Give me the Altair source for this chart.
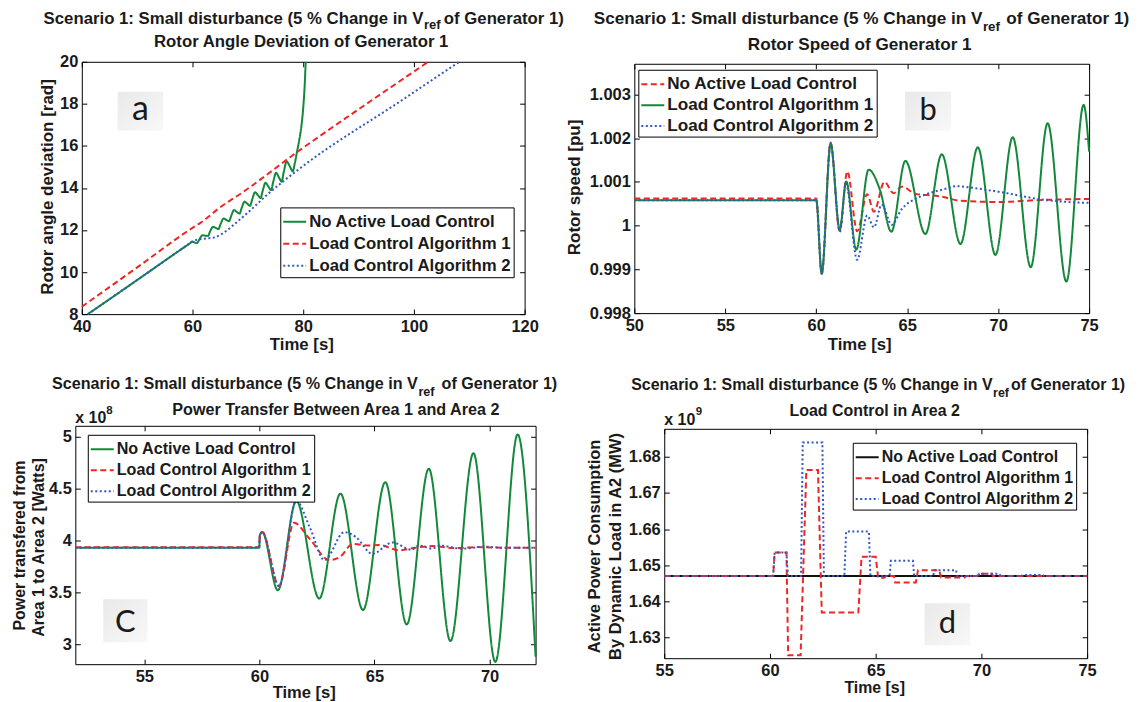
import altair as alt
import pandas as pd

FONT = "Liberation Sans"
W, H = 561, 343
GREEN, RED, BLUE, BLACK = "#13883a", "#f02626", "#3358c4", "#111111"
SOLID, DASH, DOT = [1, 0], [6, 3.5], [2, 2.5]
INK = "#1a1a1a"

NO = "No Active Load Control"
A1 = "Load Control Algorithm 1"
A2 = "Load Control Algorithm 2"
SERIES = [NO, A1, A2]

# ---------------- panel a : rotor angle deviation [rad] ----------------
a_no_t = [41.1, 50.0, 55.0, 58.0, 59.5, 60.0, 60.4, 60.8, 61.3, 61.8, 62.3, 62.8, 63.2, 63.7, 64.2, 64.7,
          65.1, 65.6, 66.1, 66.6, 67.0, 67.5, 68.0, 68.5, 68.9, 69.4, 69.9, 70.4, 70.8, 71.3, 71.8, 72.3,
          72.7, 73.2, 73.7, 74.2, 74.6, 75.1, 75.6, 76.1, 76.5, 77.0, 77.6, 78.1, 78.5, 78.9, 79.3, 79.7,
          80.0, 80.25, 80.45]
a_no_v = [8.0, 9.62, 10.54, 11.09, 11.36, 11.45, 11.40, 11.38, 11.58, 11.75, 11.73, 11.72, 11.95, 12.15,
          12.10, 12.05, 12.30, 12.55, 12.48, 12.42, 12.68, 12.95, 12.86, 12.78, 13.06, 13.35, 13.25, 13.15,
          13.47, 13.80, 13.66, 13.52, 13.88, 14.25, 14.07, 13.90, 14.31, 14.72, 14.51, 14.30, 14.78, 15.26,
          15.02, 14.79, 15.20, 15.75, 16.30, 17.00, 17.80, 18.80, 20.0]
a_a1_t = [40, 50, 60, 61.5, 63, 64.5, 66, 67.5, 79.5, 92, 102.6]
a_a1_v = [8.35, 10.22, 12.1, 12.35, 12.65, 12.98, 13.27, 13.52, 15.82, 18.1, 20.0]
a_a2_t = [41.1, 50.0, 55.0, 58.0, 59.5, 60.0, 61.0, 62.5, 64.0, 65.2, 66.3, 67.5, 70.5, 73.5, 79.5, 97.4,
          108.2]
a_a2_v = [8.0, 9.62, 10.54, 11.09, 11.36, 11.45, 11.55, 11.60, 11.65, 11.80, 12.00, 12.26, 12.95, 13.68,
          14.95, 18.10, 20.0]

# ---------------- panel b : rotor speed [pu] ----------------
b_no_t = [50, 60.0, 60.3, 60.79, 61.28, 61.71, 62.25, 62.8, 63.17, 63.75, 64.25, 64.7, 65.5, 66.1, 66.9,
          67.9, 70.1, 72.0, 75.0]
b_no_v = [1.00062, 1.00062, 0.9989, 1.0019, 0.99988, 1.00124, 0.99987, 1.00072, 1.00032, 1.00100, 1.00074,
          1.00089, 1.00072, 1.00070, 1.00066, 1.00057, 1.00054, 1.00058, 1.00061]
b_a1_t = [50, 60.0, 60.3, 60.79, 61.29, 61.65, 62.2, 62.88, 63.5, 64.13, 64.9, 66.0, 66.9, 67.93, 68.88,
          69.85, 70.8, 71.79, 72.72, 73.75, 74.7, 75.0]
b_a1_v = [1.00058, 1.00058, 0.9989, 1.00188, 0.9999, 1.00101, 0.99945, 1.00128, 1.00082, 0.99986, 1.00148,
          0.99981, 1.00163, 0.99958, 1.00179, 0.99933, 1.00202, 0.99905, 1.00234, 0.99872, 1.00276, 1.00169]
b_a2_t = [50, 60.0, 60.3, 60.79, 61.3, 61.63, 62.25, 62.8, 63.17, 63.6, 64.15, 64.7, 65.5, 66.0, 67.0, 67.7,
          68.5, 69.5, 70.5, 71.5, 72.5, 73.5, 75.0]
b_a2_v = [1.00058, 1.00058, 0.9989, 1.00188, 0.99986, 1.00097, 0.99922, 1.00023, 0.99996, 1.00048, 1.00002,
          1.00038, 1.00062, 1.00071, 1.00083, 1.0009, 1.00087, 1.00081, 1.00074, 1.00066, 1.00059, 1.00055,
          1.00052]

# ---------------- panel c : power transfer (x 1e8 W) ----------------
c_no_t = [52, 59.99, 60.02, 60.12, 60.8, 61.6, 62.6, 63.52, 64.5, 65.47, 66.4, 67.36, 68.3, 69.3, 70.25,
          71.22, 72.0]
c_no_v = [3.93, 3.93, 4.05, 4.08, 3.52, 4.38, 3.44, 4.45, 3.33, 4.56, 3.19, 4.69, 3.03, 4.84, 2.83, 5.02, 2.88]
c_a1_t = [52, 59.99, 60.02, 60.12, 60.85, 61.5, 62.18, 63.04, 63.5, 64.05, 64.77, 65.2, 66.07, 66.8, 67.5,
          68.5, 69.5, 70.5, 72.0]
c_a1_v = [3.935, 3.935, 4.05, 4.08, 3.56, 4.17, 4.015, 3.81, 3.84, 3.965, 3.95, 3.955, 3.905, 3.93, 3.945,
          3.925, 3.935, 3.93, 3.93]
c_a2_t = [52, 59.99, 60.02, 60.12, 60.85, 61.6, 62.18, 62.83, 63.69, 64.2, 64.91, 65.78, 66.6, 66.93, 67.5,
          67.85, 68.8, 69.8, 70.5, 72.0]
c_a2_v = [3.93, 3.93, 4.05, 4.08, 3.56, 4.38, 4.13, 3.81, 4.08, 4.03, 3.87, 3.98, 3.91, 3.95, 3.92, 3.95,
          3.92, 3.94, 3.93, 3.93]

# ---------------- panel d : load in area 2 (x 1e9) ----------------
d_no_t = [55, 75]
d_no_v = [1.647, 1.647]
d_a1_t = [55, 60.15, 60.22, 60.78, 60.86, 61.45, 61.72, 62.27, 62.45, 64.18, 64.33, 65.0, 65.12, 65.4, 65.5,
          65.86, 65.92, 66.9, 67.0, 68.0, 68.1, 69.2, 69.3, 69.8, 69.85, 70.5, 70.55, 75]
d_a1_v = [1.647, 1.647, 1.6535, 1.6535, 1.625, 1.625, 1.6764, 1.6764, 1.6369, 1.6369, 1.6523, 1.6523,
          1.6465, 1.6465, 1.647, 1.647, 1.6452, 1.6452, 1.6486, 1.6486, 1.6466, 1.6466, 1.647, 1.647,
          1.6476, 1.6476, 1.647, 1.647]
d_a2_t = [55, 60.15, 60.22, 60.78, 60.85, 61.47, 61.55, 62.48, 62.55, 63.52, 63.6, 64.68, 64.75, 65.66,
          65.72, 66.76, 66.82, 67.72, 67.78, 68.8, 68.86, 69.85, 69.9, 70.85, 70.9, 71.9, 71.95, 72.9,
          72.95, 75]
d_a2_v = [1.647, 1.647, 1.6535, 1.6535, 1.647, 1.647, 1.684, 1.684, 1.647, 1.647, 1.6593, 1.6593, 1.647,
          1.647, 1.6512, 1.6512, 1.647, 1.647, 1.6486, 1.6486, 1.647, 1.647, 1.6476, 1.6476, 1.647, 1.647,
          1.6473, 1.6473, 1.647, 1.647]


def frame(series):
    rows = []
    for name, ts, vs in series:
        rows += [{"t": t, "v": v, "s": name} for t, v in zip(ts, vs)]
    return pd.DataFrame(rows)


ONE = pd.DataFrame({"k": [0]})


def txt(s, x, y, size, align="center", weight="bold", angle=0, font=FONT, baseline="middle"):
    kw = dict(text=s, font=font, fontSize=size, fontWeight=weight, align=align,
              baseline=baseline, color=INK)
    if angle:
        kw["angle"] = angle
    return alt.Chart(ONE).mark_text(**kw).encode(x=alt.value(x), y=alt.value(y))


def panel(df, colors, dashes, interp, xdom, ydom, box, xticks, yticks, yfmt,
          leg, legsize, extra):
    pl, pr, pt, pbot = box
    xs = alt.Scale(domain=xdom, range=[pl, pr], nice=False, zero=False)
    ys = alt.Scale(domain=ydom, range=[pbot, pt], nice=False, zero=False)
    lab = dict(labelFont=FONT, labelFontSize=16.5, labelFontWeight="bold", labelColor=INK,
               domainColor="black", domainWidth=1, ticks=False, tickSize=0, grid=False,
               title=None, labelOverlap=False, labelFlush=False, labelPadding=4)
    tk = dict(labels=False, grid=False, title=None, tickSize=5, tickColor="black",
              tickWidth=1, domainColor="black", domainWidth=1)
    leg_kw = dict(orient="none", legendX=leg[0], legendY=leg[1], title=None,
                  symbolType="stroke", symbolSize=529, symbolStrokeWidth=2,
                  labelFont=FONT, labelFontSize=legsize, labelFontWeight="bold",
                  labelColor=INK, labelLimit=400, labelOffset=2, padding=2,
                  rowPadding=0, strokeColor="black", fillColor="white", cornerRadius=0)
    lines = alt.Chart(df).mark_line(interpolate=interp, strokeWidth=2).encode(
        x=alt.X("t:Q", scale=xs,
                axis=alt.Axis(orient="bottom", offset=pbot - H, values=xticks, **lab)),
        y=alt.Y("v:Q", scale=ys,
                axis=alt.Axis(orient="left", offset=-pl, values=yticks, format=yfmt, **lab)),
        color=alt.Color("s:N", scale=alt.Scale(domain=SERIES, range=colors),
                        legend=alt.Legend(**leg_kw)),
        strokeDash=alt.StrokeDash("s:N", scale=alt.Scale(domain=SERIES, range=dashes),
                                  legend=alt.Legend(**leg_kw)),
    )
    ticks_in = alt.Chart(df).mark_point(opacity=0, size=1).encode(
        x=alt.X("t:Q", scale=xs,
                axis=alt.Axis(orient="top", offset=-pbot, values=xticks, domain=False, **tk)),
        y=alt.Y("v:Q", scale=ys,
                axis=alt.Axis(orient="right", offset=pl - W, values=yticks, domain=False, **tk)),
    )
    ticks_box = alt.Chart(df).mark_point(opacity=0, size=1).encode(
        x=alt.X("t:Q", scale=xs,
                axis=alt.Axis(orient="bottom", offset=pt - H, values=xticks, domain=True, **tk)),
        y=alt.Y("v:Q", scale=ys,
                axis=alt.Axis(orient="left", offset=-pr, values=yticks, domain=True, **tk)),
    )
    return alt.layer(*extra, lines, ticks_in, ticks_box).resolve_axis(
        x="independent", y="independent").properties(width=W, height=H)


def letter_box(ch, x0, x1, y0, y1, base, size):
    box = alt.Chart(ONE).mark_rect(
        fill=alt.Gradient(gradient="linear", x1=0, y1=0, x2=1, y2=1,
                          stops=[alt.GradientStop(color="#e9e9e9", offset=0),
                                 alt.GradientStop(color="#f8f8f8", offset=1)])
    ).encode(x=alt.value(x0), x2=alt.value(x1), y=alt.value(y0), y2=alt.value(y1))
    t = txt(ch, (x0 + x1) / 2, base, size, weight="normal", font="Lato", baseline="alphabetic")
    return [box, t]


def title_block(size, vend, ofx, y1, ysub, l2, l2x, l2y, gap="  "):
    return [
        txt("Scenario 1: Small" + gap + "disturbance" + gap + "(5 % Change in V", vend, y1, size, align="right"),
        txt("ref", vend + 0.5, ysub, size * 0.78, align="left"),
        txt("of Generator 1)", ofx, y1, size, align="left"),
        txt(l2, l2x, l2y, size),
    ]


# ---- panel a ----
df_a = frame([(NO, a_no_t, a_no_v), (A1, a_a1_t, a_a1_v), (A2, a_a2_t, a_a2_v)])
extra_a = (title_block(16.8, 415.5, 436, 9, 15, "Rotor Angle Deviation of Generator 1", 293, 32)
           + letter_box("a", 109, 154.5, 82, 121, 110, 34)
           + [txt("Rotor angle deviation [rad]", 39, 177.5, 17, angle=270),
              txt("Time [s]", 293.6, 336, 16.8)])
pa = panel(df_a, [GREEN, RED, BLUE], [SOLID, DASH, DOT], "monotone", [40, 120], [8, 20],
           (73, 517, 52, 305), [40, 60, 80, 100, 120], [8, 10, 12, 14, 16, 18, 20], "d",
           (272, 198), 16.8, extra_a)

# ---- panel b ----
df_b = frame([(NO, b_no_t, b_no_v), (A1, b_a1_t, b_a1_v), (A2, b_a2_t, b_a2_v)])
extra_b = (title_block(17.2, 415, 439, 9, 17, "Rotor Speed of Generator 1", 292, 35)
           + letter_box("b", 337.5, 383.6, 82, 121, 110, 31)
           + [txt("Rotor speed [pu]", 7, 178, 17, angle=270),
              txt("Time [s]", 292, 336, 16.8)])
pb_ = panel(df_b, [RED, GREEN, BLUE], [DASH, SOLID, DOT], "monotone", [50, 75], [0.998, 1.0037],
            (66, 522, 54, 304), [50, 55, 60, 65, 70, 75],
            [0.998, 0.999, 1.0, 1.001, 1.002, 1.003], "~g", (70, 60), 17.2, extra_b)

# ---- panel c ----
df_c = frame([(NO, c_no_t, c_no_v), (A1, c_a1_t, c_a1_v), (A2, c_a2_t, c_a2_v)])
extra_c = (title_block(16.2, 410, 433.7, 32.5, 40.5, "Power Transfer Between Area 1 and Area 2", 327.7, 58, gap=" ")
           + letter_box("C", 94.5, 139, 248, 291, 280.7, 31)
           + [txt("Power transfered from", 11, 194, 16, angle=270),
              txt("Area 1 to Area 2 [Watts]", 30, 196, 16, angle=270),
              txt("Time [s]", 296, 342, 16.6),
              txt("x 10", 66.5, 66.5, 16, align="left"),
              txt("8", 97.5, 59, 11.5, align="left")])
pc = panel(df_c, [GREEN, RED, BLUE], [SOLID, DASH, DOT], "monotone", [52, 72], [2.808, 5.103],
           (66.5, 528, 74, 313), [55, 60, 65, 70], [3, 3.5, 4, 4.5, 5], "~g",
           (79, 83), 16.2, extra_c)

# ---- panel d ----
df_d = frame([(NO, d_no_t, d_no_v), (A1, d_a1_t, d_a1_v), (A2, d_a2_t, d_a2_v)])
extra_d = (title_block(16.0, 425.2, 443.6, 33.5, 41.5, "Load Control in Area 2", 307, 59, gap=" ")
           + letter_box("d", 357, 402.7, 252, 294, 282, 31)
           + [txt("Active Power Consumption", 27, 195, 16.5, angle=270),
              txt("By Dynamic Load in A2 (MW)", 48, 195, 16.5, angle=270),
              txt("Time [s]", 307, 337, 15.9),
              txt("x 10", 96, 68, 16, align="left"),
              txt("9", 127.5, 60, 11.5, align="left")])
pd_ = panel(df_d, [BLACK, RED, BLUE], [SOLID, DASH, DOT], "linear", [55, 75], [1.6242, 1.6878],
            (96, 520, 77, 307), [55, 60, 65, 70, 75], [1.63, 1.64, 1.65, 1.66, 1.67, 1.68], "~g",
            (285, 91), 16.0, extra_d)

chart = alt.concat(pa, pb_, pc, pd_, columns=2, spacing=0, bounds="flush").resolve_scale(
    color="independent", strokeDash="independent").properties(padding=0).configure_view(
    stroke="transparent")

chart.save("out.html", embed_options={"renderer": "svg", "actions": False})
